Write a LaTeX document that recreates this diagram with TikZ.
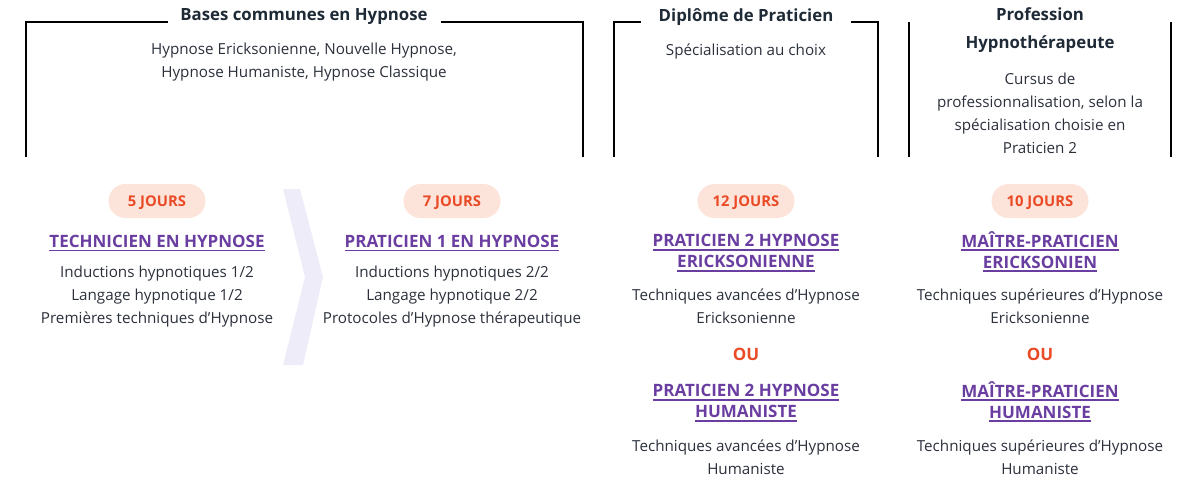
\documentclass[tikz,border=0pt]{standalone}
\usepackage{fontspec}
\setmainfont{Open Sans}
\usepackage{tikz}
\usetikzlibrary{calc}
\definecolor{encre}{HTML}{1F2A37}
\definecolor{gris}{HTML}{2B303B}
\definecolor{peche}{HTML}{FDE4DA}
\definecolor{corail}{HTML}{EA4A26}
\definecolor{violet}{HTML}{6A3EA1}
\definecolor{lavande}{HTML}{EFECFA}
\newcommand\souligne[1]{\vtop{\hbox{#1}\kern2pt\hrule height 1.5pt}}
\tikzset{
      entete/.style={font=\bfseries\fontsize{16.8}{28}\selectfont, text=encre, align=center, inner sep=0pt},
      corps/.style={font=\fontsize{15.2}{23}\selectfont, text=gris, align=center, inner sep=0pt},
      duree/.style={fill=peche, text=corail, font=\bfseries\fontsize{14.8}{16}\selectfont,
                  text height=10.8pt, text depth=0pt,
                  minimum width=97pt, minimum height=34pt, rounded corners=17pt, inner sep=0pt},
      cours/.style={font=\bfseries\fontsize{17}{21}\selectfont, text=violet, align=center, inner sep=0pt},
      ou/.style={font=\bfseries\fontsize{17}{18}\selectfont, text=corail, inner sep=0pt},
      cadre/.style={draw=black, line width=1.6pt}
}
\begin{document}
\begin{tikzpicture}[x=1pt, y=-1pt]
                  \useasboundingbox (0,0) rectangle (1200,480);
                  % frames with their headings
                  \node[entete] (bases) at (304,17) {Bases communes en Hypnose};
                  \draw[cadre] (168,22) -| (26,157);
                  \draw[cadre] (441,22) -| (583,157);
                  \node[corps] (basestxt) at (304,62.5) {Hypnose Ericksonienne, Nouvelle Hypnose,\\Hypnose Humaniste, Hypnose Classique};
                  \node[entete] (diplome) at (746,17) {Diplôme de Praticien};
                  \draw[cadre] (641,22) -| (614,157);
                  \draw[cadre] (851,22) -| (878,157);
                  \node[corps] (diplometxt) at (746,51) {Spécialisation au choix};
                  \node[entete] (profession) at (1040,30.5) {Profession\\Hypnothérapeute};
                  \draw[cadre] (909,22) -- (909,157);
                  \draw[cadre] (1171,22) -- (1171,157);
                  \node[corps] (professiontxt) at (1040,113.5) {Cursus de\\professionnalisation, selon la\\spécialisation choisie en\\Praticien 2};
                  % chevron between the first two courses
                  \fill[lavande] (283,189) -- (300,189) -- (323,277) -- (303,365) -- (283,365) -- (305,277) -- cycle;
                  % durations
                  \node[duree] (j5) at (157,201) {5 JOURS};
                  \node[duree] (j7) at (452,201) {7 JOURS};
                  \node[duree] (j12) at (746,201) {12 JOURS};
                  \node[duree] (j10) at (1040,201) {10 JOURS};
                  % courses
                  \node[cours] (technicien) at (157,243) {\souligne{TECHNICIEN EN HYPNOSE}};
                  \node[corps] (techniciental) at (157,297) {Inductions hypnotiques 1/2\\Langage hypnotique 1/2\\Premières techniques d’Hypnose};
                  \node[cours] (praticien1) at (452,243) {\souligne{PRATICIEN 1 EN HYPNOSE}};
                  \node[corps] (praticien1txt) at (452,297) {Inductions hypnotiques 2/2\\Langage hypnotique 2/2\\Protocoles d’Hypnose thérapeutique};
                  \node[cours] (praticien2e) at (746,253) {\souligne{PRATICIEN 2 HYPNOSE}\\\souligne{ERICKSONIENNE}};
                  \node[corps] (praticien2etxt) at (746,306.5) {Techniques avancées d’Hypnose\\Ericksonienne};
                  \node[ou] (ou1) at (746,354) {OU};
                  \node[cours] (praticien2h) at (746,403) {\souligne{PRATICIEN 2 HYPNOSE}\\\souligne{HUMANISTE}};
                  \node[corps] (praticien2htxt) at (746,457.5) {Techniques avancées d’Hypnose\\Humaniste};
                  \node[cours] (maitree) at (1040,251.5) {\souligne{MAÎTRE-PRATICIEN}\\\souligne{ERICKSONIEN}};
                  \node[corps] (maitreetxt) at (1040,306.5) {Techniques supérieures d’Hypnose\\Ericksonienne};
                  \node[ou] (ou2) at (1040,354) {OU};
                  \node[cours] (maitreh) at (1040,401.5) {\souligne{MAÎTRE-PRATICIEN}\\\souligne{HUMANISTE}};
                  \node[corps] (maitrehtxt) at (1040,457.5) {Techniques supérieures d’Hypnose\\Humaniste};
            \end{tikzpicture}
\end{document}
